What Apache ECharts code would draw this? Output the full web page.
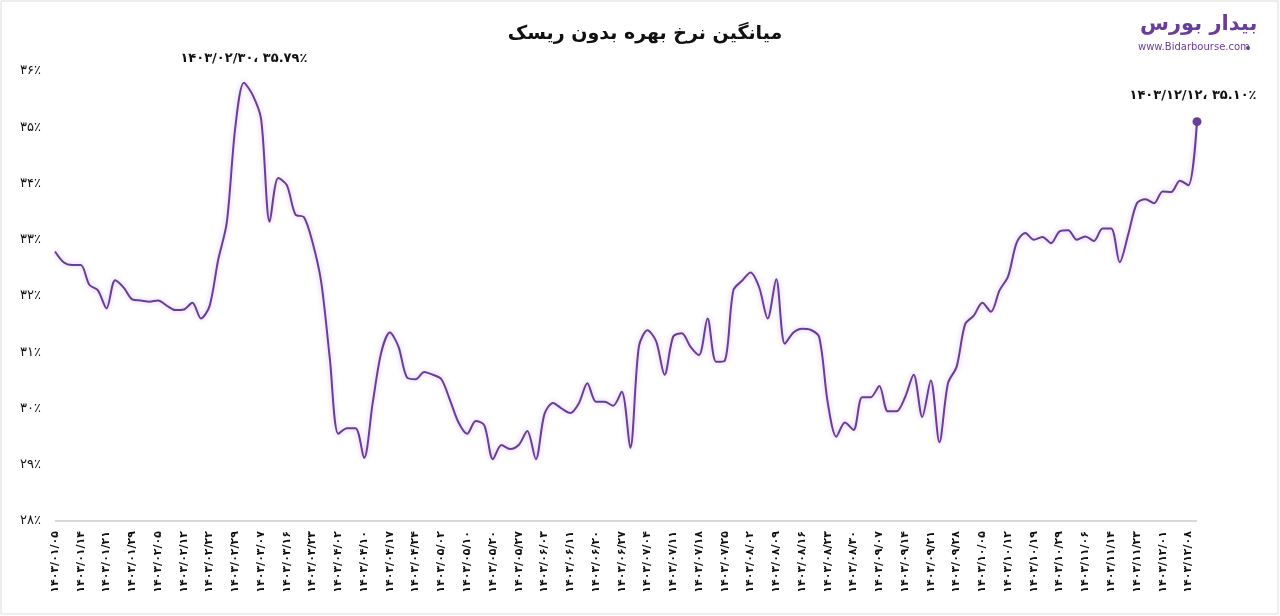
<!DOCTYPE html>
<html><head><meta charset="utf-8">
<script src="https://cdn.jsdelivr.net/npm/echarts@6/dist/echarts.min.js"></script>
<style>html,body{margin:0;padding:0;background:#fff}#c{width:1280px;height:616px}</style>
</head><body><div id="c"></div>
<script>
const tickLabels = ['1403/01/05','1403/01/14','1403/01/21','1403/01/29','1403/02/05','1403/02/12','1403/02/22','1403/02/29','1403/03/07','1403/03/16','1403/03/23','1403/04/02','1403/04/10','1403/04/17','1403/04/24','1403/05/02','1403/05/10','1403/05/20','1403/05/27','1403/06/03','1403/06/11','1403/06/20','1403/06/27','1403/07/04','1403/07/11','1403/07/18','1403/07/25','1403/08/02','1403/08/09','1403/08/16','1403/08/23','1403/08/30','1403/09/07','1403/09/14','1403/09/21','1403/09/28','1403/10/05','1403/10/12','1403/10/19','1403/10/29','1403/11/06','1403/11/14','1403/11/23','1403/12/01','1403/12/08'];
const values = [32.79,32.6,32.55,32.55,32.2,32.1,31.78,32.28,32.15,31.94,31.92,31.9,31.92,31.83,31.75,31.76,31.88,31.6,31.82,32.64,33.3,35.0,35.79,35.58,35.15,33.32,34.1,33.97,33.45,33.4,32.95,32.25,30.9,29.55,
29.65,29.65,29.12,30.1,31.0,31.35,31.1,30.55,30.52,30.65,30.6,30.52,30.15,29.75,29.55,29.78,29.7,29.1,29.35,29.28,29.35,29.6,29.1,29.9,30.1,30.0,29.92,30.09,30.45,30.12,30.12,30.05,30.3,29.3,31.1,
31.39,31.2,30.6,31.28,31.34,31.1,30.95,31.6,30.83,30.85,32.1,32.27,32.42,32.16,31.6,32.3,31.15,31.35,31.42,31.4,31.27,30.1,29.5,29.75,29.62,30.2,30.2,30.4,29.95,29.95,30.2,30.6,29.85,30.5,29.4,30.45,
30.74,31.5,31.65,31.88,31.72,32.1,32.35,32.95,33.12,33.0,33.05,32.94,33.15,33.17,33.0,33.06,32.98,33.2,33.2,32.6,33.1,33.65,33.72,33.65,33.86,33.85,34.05,33.97,35.10];
const peakIndex = 22, peakDate = '1403/02/30';
const lastDate = '1403/12/12';
const pointsPerTick = 3;

const fa = s => String(s).replace(/[0-9]/g, d => '۰۱۲۳۴۵۶۷۸۹'[d]);
const cats = values.map((v,i) => i % pointsPerTick === 0 && tickLabels[i/pointsPerTick] ? fa(tickLabels[i/pointsPerTick]) : '');
const fmtVal = v => fa(v.toFixed(2)) + '٪';
const lastIndex = values.length - 1;
const data = values.map((v,i) => i === lastIndex ? {value:v, symbol:'circle', symbolSize:9} : v);
const lbl = {fontFamily:'DejaVu Sans', fontWeight:'bold', fontSize:13, color:'#111', position:'top'};
const chart = echarts.init(document.getElementById('c'));
chart.setOption({
  animation:false,
  title:{text:'میانگین نرخ بهره بدون ریسک', left:640, top:20, textAlign:'center', textStyle:{fontFamily:'DejaVu Sans', fontWeight:'bold', fontSize:19, color:'#111'}},
  graphic:[
    {type:'rect', shape:{x:1,y:1,width:1277,height:613}, style:{fill:'none', stroke:'#ddd', lineWidth:1}},
    {type:'text', left:1140, top:14, style:{text:'بیدار بورس', font:'bold 21px "DejaVu Sans"', fill:'#6a3d9a'}},
    {type:'text', left:1138, top:42, style:{text:'www.Bidarbourse.com', font:'10px "DejaVu Sans"', fill:'#6a3d9a'}},
    {type:'circle', shape:{cx:1248,cy:48,r:2}, style:{fill:'#6a3d9a'}}
  ],
  grid:{left:55, right:83, top:71, bottom:95},
  xAxis:{type:'category', data:cats, boundaryGap:false,
    axisLine:{show:false}, axisTick:{show:false},
    axisLabel:{interval:0, rotate:90, fontFamily:'DejaVu Sans', fontWeight:'bold', fontSize:11, color:'#111', margin:10}},
  yAxis:{type:'value', min:28, max:36, interval:1,
    axisLine:{show:false}, axisTick:{show:false},
    splitLine:{show:true, lineStyle:{color:['#d9d9d9','transparent','transparent','transparent','transparent','transparent','transparent','transparent','transparent'], width:2}},
    axisLabel:{formatter:v => fa(v)+'٪', fontFamily:'DejaVu Sans', fontSize:13, color:'#111', margin:14}},
  series:[{type:'line', data:data, smooth:0.3, showSymbol:true, symbol:'none',
    lineStyle:{color:'#6a3d9a', width:2, shadowColor:'rgba(150,100,220,0.45)', shadowBlur:5},
    itemStyle:{color:'#6a3d9a'},
    markPoint:{symbol:'circle', symbolSize:1, itemStyle:{color:'rgba(0,0,0,0)'}, data:[
      {coord:[peakIndex, values[peakIndex]], label:Object.assign({}, lbl, {formatter: fa(peakDate)+'، '+fmtVal(values[peakIndex]), offset:[0,-12]})},
      {coord:[lastIndex, values[lastIndex]], label:Object.assign({}, lbl, {formatter: fa(lastDate)+'، '+fmtVal(values[lastIndex]), offset:[-4,-14]})}
    ]}}]
});
</script></body></html>
